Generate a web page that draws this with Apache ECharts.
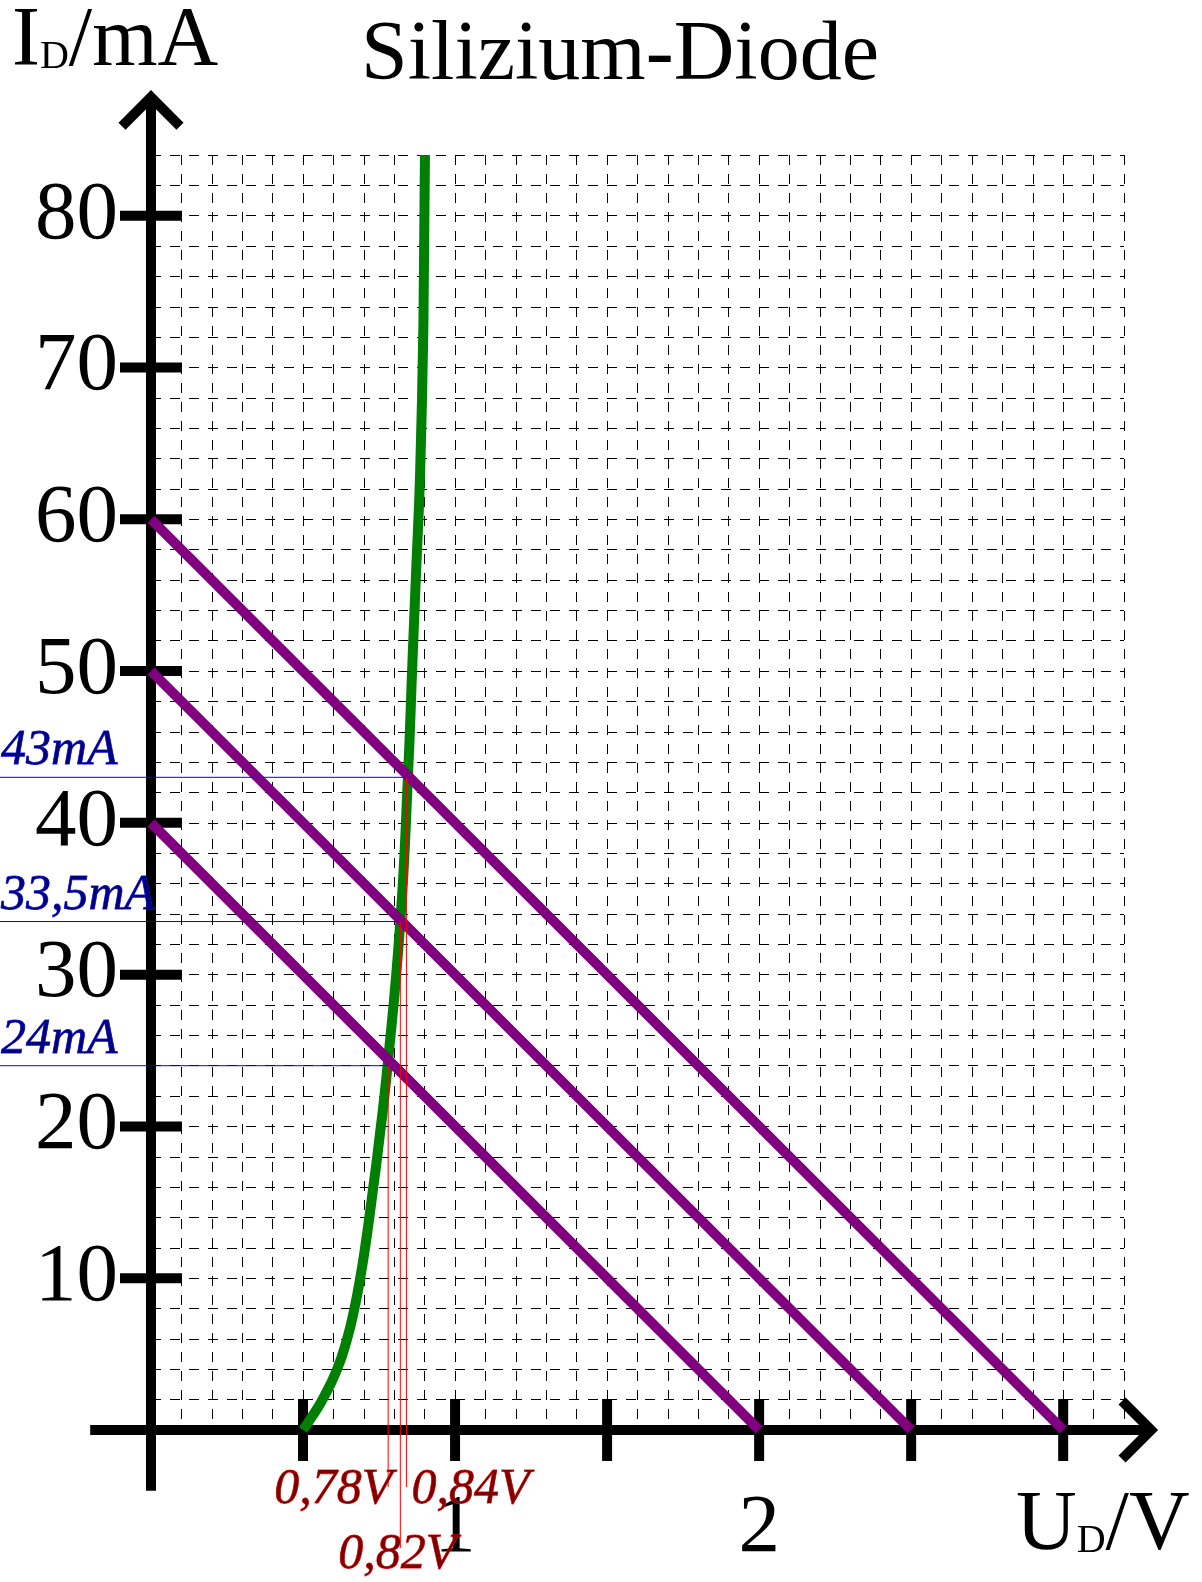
<!DOCTYPE html>
<html><head><meta charset="utf-8">
<script src="https://cdn.jsdelivr.net/npm/echarts@6/dist/echarts.min.js"></script>
<style>html,body{margin:0;padding:0;background:#fff}#c{width:1202px;height:1582px}</style>
</head><body><div id="c"></div>
<script>
// ---- data ----
const diodeU = [0.50, 0.53, 0.564, 0.612, 0.645, 0.669, 0.688, 0.704, 0.718, 0.731, 0.744, 0.778, 0.820, 0.845, 0.860, 0.872, 0.885, 0.896, 0.901];
const diodeI = [0, 0.9, 2, 4, 6, 8, 10, 12, 14, 16, 18, 24, 33.5, 43, 50.7, 56.6, 63, 73, 84];
const loadIntercept = [60, 50, 40];      // mA at U = 0
const loadOpen = [3.0, 2.5, 2.0];        // V at I = 0
const opCurrent = [24, 33.5, 43];        // mA
const opVoltage = [0.78, 0.82, 0.84];    // V
const currentLabels = ['24mA', '33,5mA', '43mA'];
const voltageLabels = ['0,78V', '0,82V', '0,84V'];
const xTickValues = [0.5, 1, 1.5, 2, 2.5, 3];
const xLabelValues = [1, 2];
const yTickValues = [10, 20, 30, 40, 50, 60, 70, 80];
const yLabelValues = [10, 20, 30, 40, 50, 60, 70, 80];

// ---- styling / layout ----
const SERIF = '"Liberation Serif", "Times New Roman", serif';
const AX = { xFrom: -0.2, xTo: 3.312, yFrom: -4, yTo: 88.27 };
const voltLabelStyle = [
  { align: 'right', dx: 4, dy: 85, drop: 57 },
  { align: 'center', dx: -3, dy: 150, drop: 118 },
  { align: 'left', dx: 5, dy: 85, drop: 57 }
];

const chart = echarts.init(document.getElementById('c'), null, { renderer: 'canvas' });

function axesItem(params, api) {
  const ch = [];
  const o = api.coord([0, 0]);
  const xs = api.coord([AX.xFrom, 0]);
  const xe = api.coord([AX.xTo, 0]);
  const ys = api.coord([0, AX.yFrom]);
  const ye = api.coord([0, AX.yTo]);
  const S = { stroke: '#000', lineWidth: 10, lineCap: 'butt' };
  ch.push({ type: 'line', shape: { x1: xs[0], y1: o[1], x2: xe[0] - 7, y2: o[1] }, style: S });
  ch.push({ type: 'line', shape: { x1: o[0], y1: ys[1], x2: o[0], y2: ye[1] + 7 }, style: S });
  const a = 29;
  ch.push({ type: 'polyline', shape: { points: [[xe[0] - 7 - a, o[1] - a], [xe[0] - 7, o[1]], [xe[0] - 7 - a, o[1] + a]] },
    style: { stroke: '#000', lineWidth: 10, fill: null, lineJoin: 'miter', miterLimit: 10 } });
  ch.push({ type: 'polyline', shape: { points: [[o[0] - a, ye[1] + 7 + a], [o[0], ye[1] + 7], [o[0] + a, ye[1] + 7 + a]] },
    style: { stroke: '#000', lineWidth: 10, fill: null, lineJoin: 'miter', miterLimit: 10 } });
  xTickValues.forEach(function (v) {
    const p = api.coord([v, 0]);
    ch.push({ type: 'line', shape: { x1: p[0], y1: p[1] - 31, x2: p[0], y2: p[1] + 31 }, style: S });
  });
  yTickValues.forEach(function (v) {
    const p = api.coord([0, v]);
    ch.push({ type: 'line', shape: { x1: p[0] - 31, y1: p[1], x2: p[0] + 31, y2: p[1] }, style: S });
  });
  return { type: 'group', children: ch };
}

function annotItem(params, api) {
  const i = api.value(2);
  const p = api.coord([api.value(0), api.value(1)]);
  const base = api.coord([api.value(0), 0]);
  const st = voltLabelStyle[i];
  return {
    type: 'group',
    children: [
      { type: 'line', shape: { x1: 0, y1: p[1], x2: p[0], y2: p[1] }, style: { stroke: '#0000ff', lineWidth: 1 } },
      { type: 'line', shape: { x1: p[0], y1: p[1], x2: p[0], y2: base[1] + st.drop }, style: { stroke: '#ff0000', lineWidth: 1 } },
      { type: 'text', x: 1, y: p[1] - 1, style: { text: currentLabels[i], font: 'italic 50px ' + SERIF, fill: '#000080', stroke: '#2020ff', lineWidth: 0.8, align: 'left', verticalAlign: 'bottom' } },
      { type: 'text', x: p[0] + st.dx, y: base[1] + st.dy, style: { text: voltageLabels[i], font: 'italic 50px ' + SERIF, fill: '#800000', stroke: '#ff2020', lineWidth: 0.8, align: st.align, verticalAlign: 'bottom' } }
    ]
  };
}

const series = [
  { type: 'custom', name: 'axes', renderItem: axesItem, data: [[0, 0]], silent: true, clip: false, z: 1 },
  {
    type: 'line', name: 'Si-Diode', data: diodeU.map(function (u, k) { return [u, diodeI[k]]; }),
    showSymbol: false, smooth: 0.5, clip: false, z: 3,
    lineStyle: { color: '#008000', width: 10, cap: 'butt', join: 'round' }
  }
];
loadIntercept.forEach(function (i0, k) {
  series.push({
    type: 'line', name: 'load' + k, data: [[0, i0], [loadOpen[k], 0]],
    showSymbol: false, clip: false, z: 4, lineStyle: { color: '#800080', width: 10, cap: 'butt' }
  });
});
series.push({
  type: 'custom', name: 'annot', renderItem: annotItem, clip: false, silent: true, z: 5,
  data: opCurrent.map(function (c, k) { return [opVoltage[k], c, k]; }),
  encode: { x: 0, y: 1 }
});

const richSub = {
  a: { fontFamily: SERIF, fontSize: 84, fontWeight: 'normal', color: '#000' },
  b: { fontFamily: SERIF, fontSize: 40, fontWeight: 'normal', color: '#000', verticalAlign: 'bottom', padding: [0, 0, 8, 0] }
};

chart.setOption({
  animation: false,
  backgroundColor: '#fff',
  title: [
    { text: 'Silizium-Diode', left: 361, top: 15, padding: 0, textStyle: { fontFamily: SERIF, fontSize: 84, fontWeight: 'normal', color: '#000' } },
    { text: '{a|I}{b|D}{a|/mA}', left: 12, top: 1, padding: 0, textStyle: { fontWeight: 'normal', rich: richSub } },
    { text: '{a|U}{b|D}{a|/V}', left: 1016, top: 1485, padding: 0, textStyle: { fontWeight: 'normal', rich: richSub } }
  ],
  grid: { left: 151, right: 78, top: 155, bottom: 152, containLabel: false },
  xAxis: {
    type: 'value', min: 0, max: 3.2, interval: 0.1,
    axisLine: { show: false }, axisTick: { show: false },
    splitLine: { show: true, lineStyle: { color: '#000', width: 1, type: [10, 9] } },
    axisLabel: { customValues: xLabelValues, margin: 58, fontFamily: SERIF, fontSize: 83, color: '#000' }
  },
  yAxis: {
    type: 'value', min: 0, max: 84, interval: 2,
    axisLine: { show: false }, axisTick: { show: false },
    splitLine: { show: true, lineStyle: { color: '#000', width: 1, type: [10, 9] } },
    axisLabel: { customValues: yLabelValues, margin: 33, fontFamily: SERIF, fontSize: 83, color: '#000' }
  },
  series: series
});
</script>
</body></html>
